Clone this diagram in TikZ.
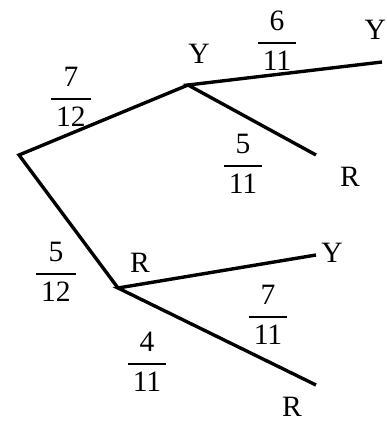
\documentclass[tikz,border=0pt]{standalone}
\usepackage{amsmath}
\usepackage{fontspec}
\setmainfont{Liberation Serif}
\usepackage{tikz}
\usetikzlibrary{positioning}
\newcommand{\pr}[2]{$\genfrac{}{}{1.6pt}{0}{\text{#1}}{\,\text{#2}\,}$}
\tikzset{
  branch/.style={draw=black,line width=2.4pt},
  outcome/.style={font=\fontsize{21}{25}\selectfont,inner sep=0pt},
  prob/.style={font=\fontsize{21}{25}\selectfont,inner sep=0pt}
}

\begin{document}
\begin{tikzpicture}[x=1cm,y=1cm]
    \useasboundingbox (0,0) rectangle (9.675,10.55);

    % branch points and leaf ends
    \coordinate (root) at (0.475,6.675);
    \coordinate (y1) at (4.70,8.425);
    \coordinate (r1) at (2.95,3.35);
    \coordinate (yy) at (9.55,9.00);
    \coordinate (yr) at (7.90,6.675);
    \coordinate (ry) at (7.90,4.175);
    \coordinate (rr) at (7.90,0.925);

    \draw[branch] (y1) -- (root) -- (r1);
    \draw[branch] (yy) -- (y1) -- (yr);
    \draw[branch] (ry) -- (r1) -- (rr);

    % outcomes
    \node[outcome] (lab-y1) at (4.975,9.2) {Y};
    \node[outcome] (lab-r1) at (3.5,3.975) {R};
    \node[outcome] (lab-yy) at (9.38,9.8) {Y};
    \node[outcome] (lab-yr) at (8.75,6.125) {R};
    \node[outcome] (lab-ry) at (8.3,4.225) {Y};
    \node[outcome] (lab-rr) at (7.3,0.38) {R};

    % probabilities
    \node[prob] (p-y1) at (1.775,8.125) {\pr{7}{12}};
    \node[prob] (p-r1) at (1.4,3.75) {\pr{5}{12}};
    \node[prob] (p-yy) at (6.925,9.525) {\pr{6}{11}};
    \node[prob] (p-yr) at (6.075,6.45) {\pr{5}{11}};
    \node[prob] (p-ry) at (6.7,2.675) {\pr{7}{11}};
    \node[prob] (p-rr) at (3.675,1.5) {\pr{4}{11}};
\end{tikzpicture}
\end{document}
